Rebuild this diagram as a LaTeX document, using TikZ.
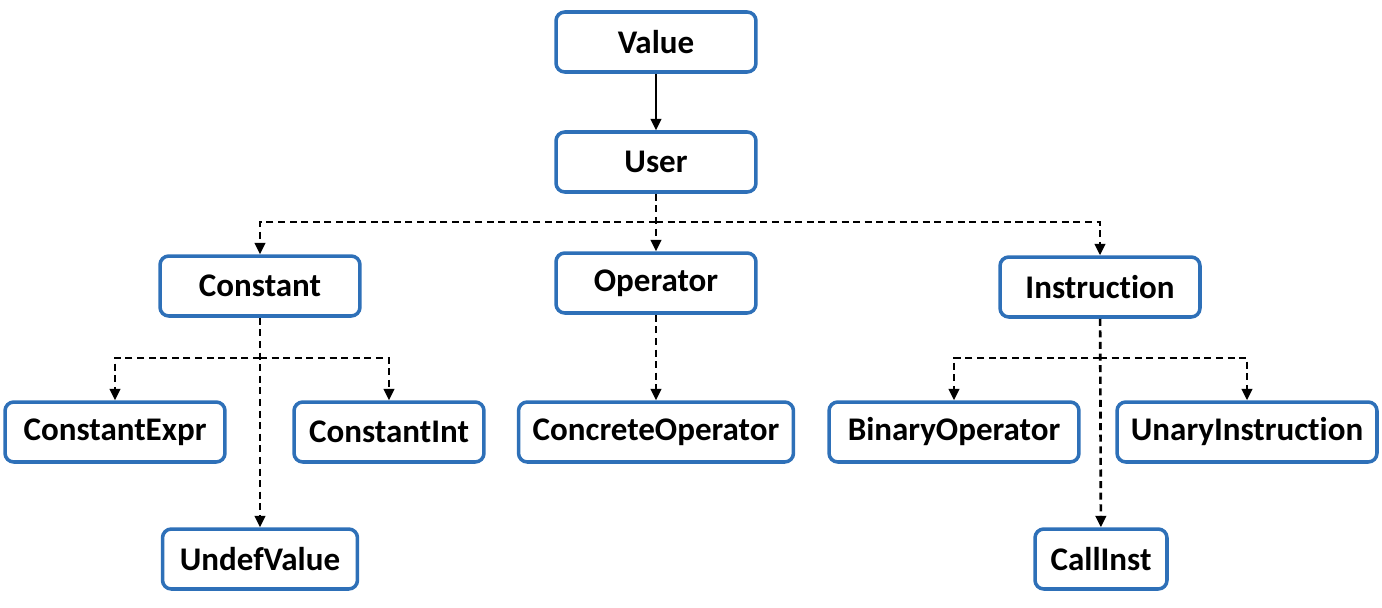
\documentclass[tikz,border=0pt]{standalone}
\usepackage{fontspec}
\setmainfont{Carlito}[Ligatures=NoCommon]
\usetikzlibrary{arrows.meta}
\definecolor{boxblue}{RGB}{46,112,184}
\begin{document}
\begin{tikzpicture}[x=0.02cm,y=-0.02cm,>={Triangle[length=6.5pt,width=6pt]},
  cls/.style={draw=boxblue,line width=2pt,rounded corners=5pt,fill=white,
  align=center,font=\fontsize{18.8}{21}\selectfont\bfseries,minimum height=1.2cm,inner sep=0pt},
  edge/.style={->,line width=1.3pt},
  sub/.style={edge,line width=1.5pt,dash pattern=on 4pt off 2.6pt}]
\useasboundingbox (0,0) rectangle (1382,608);
\node[cls,minimum width=4cm] (value) at (656,42) {Value};
\node[cls,minimum width=4cm] (user) at (656,162) {User};
\node[cls,minimum width=4cm] (constant) at (260,286) {Constant};
\node[cls,minimum width=4cm] (operator) at (656,283) {Operator};
\node[cls,minimum width=4cm] (instruction) at (1100,287) {Instruction};
\node[cls,minimum width=4.4cm] (cexpr) at (115,432) {ConstantExpr};
\node[cls,minimum width=3.8cm] (cint) at (389,432) {ConstantInt};
\node[cls,minimum width=5.5cm] (concrete) at (656,432) {ConcreteOperator};
\node[cls,minimum width=5cm] (binop) at (954,432) {BinaryOperator};
\node[cls,minimum width=5.2cm] (unary) at (1247,432) {UnaryInstruction};
\node[cls,minimum width=3.9cm] (undef) at (260,559) {UndefValue};
\node[cls,minimum width=2.64cm] (call) at (1101,559) {CallInst};
\coordinate (ujoin) at (656,222);
\coordinate (cjoin) at (260,358);
\coordinate (ijoin) at (1100,358);
\draw[edge] (value)--(user);
\draw[sub] (user)--(operator);
\draw[sub] (ujoin)-|(constant);
\draw[sub] (ujoin)-|(instruction);
\draw[sub] (operator)--(concrete);
\draw[sub] (constant)--(undef);
\draw[sub] (cjoin)-|(cexpr);
\draw[sub] (cjoin)-|(cint);
\draw[sub] (instruction)--(call);
\draw[sub] (ijoin)-|(binop);
\draw[sub] (ijoin)-|(unary);
\end{tikzpicture}
\end{document}
